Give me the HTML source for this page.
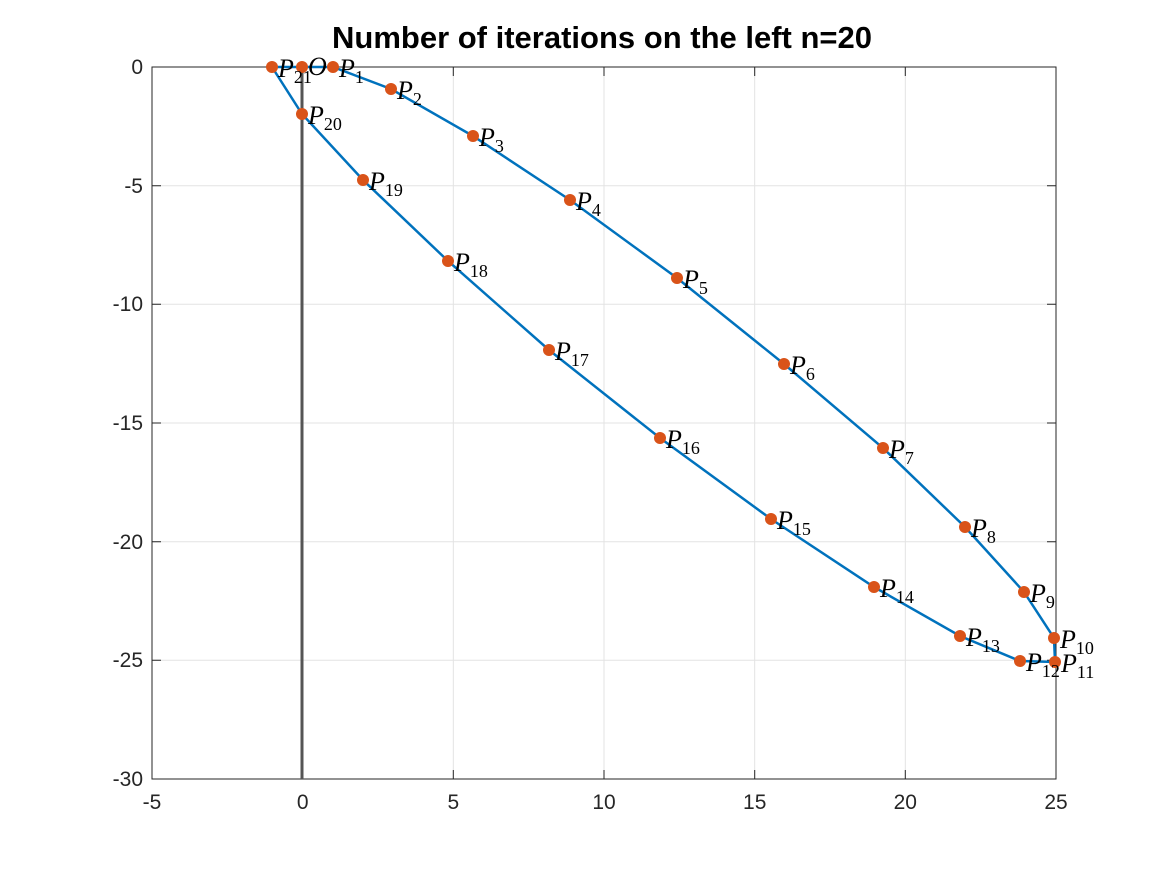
<!DOCTYPE html>
<html><head><style>body{margin:0;background:#fff}svg{display:block}</style></head><body>
<svg width="1167" height="875" xmlns="http://www.w3.org/2000/svg" font-family="Liberation Sans, sans-serif">
<rect width="1167" height="875" fill="#fff"/>
<g stroke="#e3e3e3" stroke-width="1">
<line x1="302.7" y1="67" x2="302.7" y2="779"/><line x1="453.3" y1="67" x2="453.3" y2="779"/><line x1="604" y1="67" x2="604" y2="779"/><line x1="754.7" y1="67" x2="754.7" y2="779"/><line x1="905.3" y1="67" x2="905.3" y2="779"/>
<line x1="152" y1="185.7" x2="1056" y2="185.7"/><line x1="152" y1="304.3" x2="1056" y2="304.3"/><line x1="152" y1="423" x2="1056" y2="423"/><line x1="152" y1="541.7" x2="1056" y2="541.7"/><line x1="152" y1="660.3" x2="1056" y2="660.3"/>
</g>
<rect x="152" y="67" width="904" height="712" fill="none" stroke="#262626" stroke-width="1"/>
<g stroke="#262626" stroke-width="1">
<path d="M302.7 779v-9M453.3 779v-9M604 779v-9M754.7 779v-9M905.3 779v-9M302.7 67v9M453.3 67v9M604 67v9M754.7 67v9M905.3 67v9"/>
<path d="M152 185.7h9M152 304.3h9M152 423h9M152 541.7h9M152 660.3h9M1056 185.7h-9M1056 304.3h-9M1056 423h-9M1056 541.7h-9M1056 660.3h-9"/>
</g>
<g font-size="21" fill="#262626" text-anchor="middle">
<text x="152" y="809">-5</text><text x="302.7" y="809">0</text><text x="453.3" y="809">5</text><text x="604" y="809">10</text><text x="754.7" y="809">15</text><text x="905.3" y="809">20</text><text x="1056" y="809">25</text>
</g>
<g font-size="21" fill="#262626" text-anchor="end">
<text x="143" y="74">0</text><text x="143" y="193">-5</text><text x="143" y="311">-10</text><text x="143" y="430">-15</text><text x="143" y="549">-20</text><text x="143" y="667">-25</text><text x="143" y="786">-30</text>
</g>
<text x="602" y="48" font-size="31" font-weight="bold" text-anchor="middle" fill="#000">Number of iterations on the left n=20</text>
<line x1="302" y1="67" x2="302" y2="779" stroke="#555" stroke-width="3"/>
<polyline fill="none" stroke="#0072bd" stroke-width="2.5" points="272,67 302,67 333,67 391,89 473,136 570,200 677,278 784,364 883,448 965,527 1024,592 1054,638 1055,662 1020,661 960,636 874,587 771,519 660,438 549,350 448,261 363,180 302,114 272,67"/>
<g fill="#d95319">
<circle cx="272" cy="67" r="6"/><circle cx="302" cy="67" r="6"/><circle cx="333" cy="67" r="6"/><circle cx="391" cy="89" r="6"/><circle cx="473" cy="136" r="6"/><circle cx="570" cy="200" r="6"/><circle cx="677" cy="278" r="6"/><circle cx="784" cy="364" r="6"/><circle cx="883" cy="448" r="6"/><circle cx="965" cy="527" r="6"/><circle cx="1024" cy="592" r="6"/><circle cx="1054" cy="638" r="6"/><circle cx="1055" cy="662" r="6"/><circle cx="1020" cy="661" r="6"/><circle cx="960" cy="636" r="6"/><circle cx="874" cy="587" r="6"/><circle cx="771" cy="519" r="6"/><circle cx="660" cy="438" r="6"/><circle cx="549" cy="350" r="6"/><circle cx="448" cy="261" r="6"/><circle cx="363" cy="180" r="6"/><circle cx="302" cy="114" r="6"/>
</g>
<g font-family="Liberation Serif, serif" font-size="26" fill="#000">
<text x="278" y="77"><tspan font-style="italic">P</tspan><tspan font-size="18" dy="6">21</tspan></text>
<text x="308" y="75" font-style="italic">O</text>
<text x="339" y="77"><tspan font-style="italic">P</tspan><tspan font-size="18" dy="6">1</tspan></text>
<text x="397" y="99"><tspan font-style="italic">P</tspan><tspan font-size="18" dy="6">2</tspan></text>
<text x="479" y="146"><tspan font-style="italic">P</tspan><tspan font-size="18" dy="6">3</tspan></text>
<text x="576" y="210"><tspan font-style="italic">P</tspan><tspan font-size="18" dy="6">4</tspan></text>
<text x="683" y="288"><tspan font-style="italic">P</tspan><tspan font-size="18" dy="6">5</tspan></text>
<text x="790" y="374"><tspan font-style="italic">P</tspan><tspan font-size="18" dy="6">6</tspan></text>
<text x="889" y="458"><tspan font-style="italic">P</tspan><tspan font-size="18" dy="6">7</tspan></text>
<text x="971" y="537"><tspan font-style="italic">P</tspan><tspan font-size="18" dy="6">8</tspan></text>
<text x="1030" y="602"><tspan font-style="italic">P</tspan><tspan font-size="18" dy="6">9</tspan></text>
<text x="1060" y="648"><tspan font-style="italic">P</tspan><tspan font-size="18" dy="6">10</tspan></text>
<text x="1061" y="672"><tspan font-style="italic">P</tspan><tspan font-size="18" dy="6">11</tspan></text>
<text x="1026" y="671"><tspan font-style="italic">P</tspan><tspan font-size="18" dy="6">12</tspan></text>
<text x="966" y="646"><tspan font-style="italic">P</tspan><tspan font-size="18" dy="6">13</tspan></text>
<text x="880" y="597"><tspan font-style="italic">P</tspan><tspan font-size="18" dy="6">14</tspan></text>
<text x="777" y="529"><tspan font-style="italic">P</tspan><tspan font-size="18" dy="6">15</tspan></text>
<text x="666" y="448"><tspan font-style="italic">P</tspan><tspan font-size="18" dy="6">16</tspan></text>
<text x="555" y="360"><tspan font-style="italic">P</tspan><tspan font-size="18" dy="6">17</tspan></text>
<text x="454" y="271"><tspan font-style="italic">P</tspan><tspan font-size="18" dy="6">18</tspan></text>
<text x="369" y="190"><tspan font-style="italic">P</tspan><tspan font-size="18" dy="6">19</tspan></text>
<text x="308" y="124"><tspan font-style="italic">P</tspan><tspan font-size="18" dy="6">20</tspan></text>
</g>
</svg>
</body></html>
